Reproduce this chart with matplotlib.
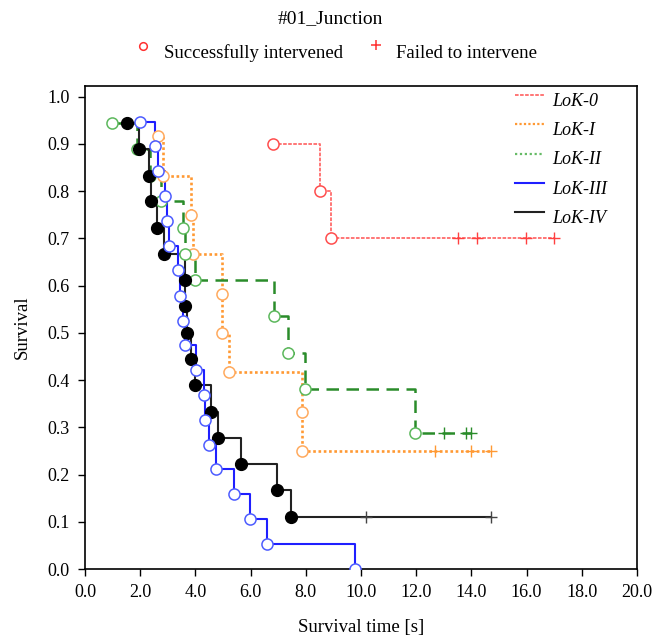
import matplotlib
matplotlib.use("Agg")
import matplotlib.pyplot as plt
from matplotlib.lines import Line2D

plt.rcParams['font.family'] = ['Liberation Serif', 'DejaVu Serif']

# event times / survival at each event, and censored times per group
lok0_t = [6.80, 8.53, 8.93]
lok0_s = [0.900, 0.800, 0.700]
lok0_c = [13.53, 14.19, 15.98, 16.99]

lok1_t = [2.65, 2.84, 3.86, 3.90, 4.97, 4.97, 5.23, 7.85, 7.88]
lok1_s = [0.917, 0.833, 0.750, 0.667, 0.583, 0.500, 0.417, 0.333, 0.250]
lok1_c = [12.68, 13.97, 14.73]

lok2_t = [0.99, 1.87, 2.36, 2.74, 3.57, 3.62, 4.00, 6.85, 7.37, 7.99, 11.96]
lok2_s = [0.944, 0.889, 0.833, 0.778, 0.722, 0.667, 0.611, 0.535, 0.458, 0.381, 0.287]
lok2_c = [13.00, 13.79, 13.98]

lok3_t = [2.01, 2.54, 2.63, 2.90, 2.96, 3.05, 3.36, 3.46, 3.54, 3.62, 4.01,
          4.33, 4.35, 4.50, 4.73, 5.41, 5.98, 6.61, 9.78]
lok3_s = [0.947, 0.895, 0.842, 0.789, 0.737, 0.684, 0.632, 0.579, 0.526, 0.474,
          0.421, 0.368, 0.316, 0.263, 0.211, 0.158, 0.105, 0.053, 0.000]
lok3_c = []

lok4_t = [1.54, 1.96, 2.33, 2.38, 2.60, 2.87, 3.62, 3.63, 3.68, 3.85, 4.00,
          4.57, 4.83, 5.67, 6.96, 7.45]
lok4_s = [0.944, 0.889, 0.833, 0.778, 0.722, 0.667, 0.611, 0.556, 0.500, 0.444,
          0.389, 0.333, 0.278, 0.222, 0.167, 0.111]
lok4_c = [10.20, 14.71]

labels = ['LoK-0', 'LoK-I', 'LoK-II', 'LoK-III', 'LoK-IV']

styles = {
    'LoK-0': dict(line='#ff6b6b', ls=(0, (2, 0.8)), lw=1.3, circ='#ff4d4d', cens='#ff4040'),
    'LoK-I': dict(line='#ff9933', ls=(0, (1, 1)), lw=1.9, circ='#ffaa5e', cens='#ff9933'),
    'LoK-II': dict(line='#2a8c2a', ls=(0, (5, 3)), lw=1.8, circ='#5cb85c', cens='#2a8c2a'),
    'LoK-III': dict(line='#1f1fff', ls='-', lw=1.5, circ='#4d5cff', cens='#1f1fff'),
    'LoK-IV': dict(line='#222222', ls='-', lw=1.5, circ='black', cens='#444444'),
}

fig = plt.figure(figsize=(6.68, 6.39), dpi=100)
ax = fig.add_axes([0.1272, 0.1095, 0.8263, 0.7563])


def draw_curve(name, t, s, cens, filled=False):
    st = styles[name]
    xs = list(t)
    ys = list(s)
    if cens:
        xs.append(max(cens))
        ys.append(s[-1])
    ax.step(xs, ys, where='post', color=st['line'], linestyle=st['ls'],
            lw=st['lw'], zorder=2)
    if filled:
        ax.plot(t, s, 'o', ms=8.5, mfc=st['circ'], mec=st['circ'], zorder=3)
    else:
        ax.plot(t, s, 'o', ms=8, mfc='white', mec=st['circ'], mew=1.1, zorder=3)
    if cens:
        ax.plot(cens, [s[-1]] * len(cens), '+', ms=8, mew=1.0,
                color=st['cens'], zorder=3)


# drawing order keeps blue circles above black dots
draw_curve('LoK-0', lok0_t, lok0_s, lok0_c)
draw_curve('LoK-I', lok1_t, lok1_s, lok1_c)
draw_curve('LoK-II', lok2_t, lok2_s, lok2_c)
draw_curve('LoK-IV', lok4_t, lok4_s, lok4_c, filled=True)
draw_curve('LoK-III', lok3_t, lok3_s, lok3_c)

ax.set_xlim(0, 20)
ax.set_ylim(0, 1.023)
ax.set_xticks([i * 2.0 for i in range(11)])
ax.set_xticklabels([f'{i * 2.0:.1f}' for i in range(11)])
ax.set_yticks([i / 10 for i in range(11)])
ax.set_yticklabels([f'{i / 10:.1f}' for i in range(11)])
ax.tick_params(direction='out', length=5, width=1.0, labelsize=13,
               top=False, right=False, pad=6)
for sp in ax.spines.values():
    sp.set_linewidth(1.2)

ax.set_xlabel('Survival time [s]', fontsize=13.5, labelpad=13)
ax.set_ylabel('Survival', fontsize=13.5, labelpad=12)

# in-axes legend: line sample plus italic label
leg_lines = [
    ('LoK-0', '#ff6b6b', (0, (2, 0.8)), 1.3),
    ('LoK-I', '#ff9933', (0, (1, 1)), 1.6),
    ('LoK-II', '#66bb66', (0, (1, 1.2)), 1.6),
    ('LoK-III', '#1f1fff', '-', 1.5),
    ('LoK-IV', '#222222', '-', 1.5),
]
for i, (name, col, ls, lw) in enumerate(leg_lines):
    y_line = (569 - (95 + 29.3 * i)) / 483.3
    y_text = (569 - (101.5 + 29.2 * i)) / 483.3
    ax.add_line(Line2D([(515 - 85) / 552, (544 - 85) / 552], [y_line, y_line],
                       transform=ax.transAxes, color=col, linestyle=ls, lw=lw))
    ax.text((552 - 85) / 552, y_text, name, transform=ax.transAxes,
            fontsize=13, style='italic', va='center', ha='left')

# title and marker key above the axes
fig.text(330 / 668, 1 - 19 / 639, '#01_Junction', ha='center', va='center', fontsize=14)
fig.add_artist(Line2D([143 / 668], [1 - 46 / 639], transform=fig.transFigure,
                      marker='o', ms=5.5, mfc='white', mec='#ff3030', mew=1.1, ls=''))
fig.text(164 / 668, 1 - 53 / 639, 'Successfully intervened', ha='left', va='center',
         fontsize=13.5)
fig.add_artist(Line2D([376 / 668], [1 - 45 / 639], transform=fig.transFigure,
                      marker='+', ms=7, mec='#ff3030', mew=1.1, ls=''))
fig.text(396 / 668, 1 - 53 / 639, 'Failed to intervene', ha='left', va='center',
         fontsize=13.5)

fig.savefig('out.png', dpi=100, facecolor='white')
